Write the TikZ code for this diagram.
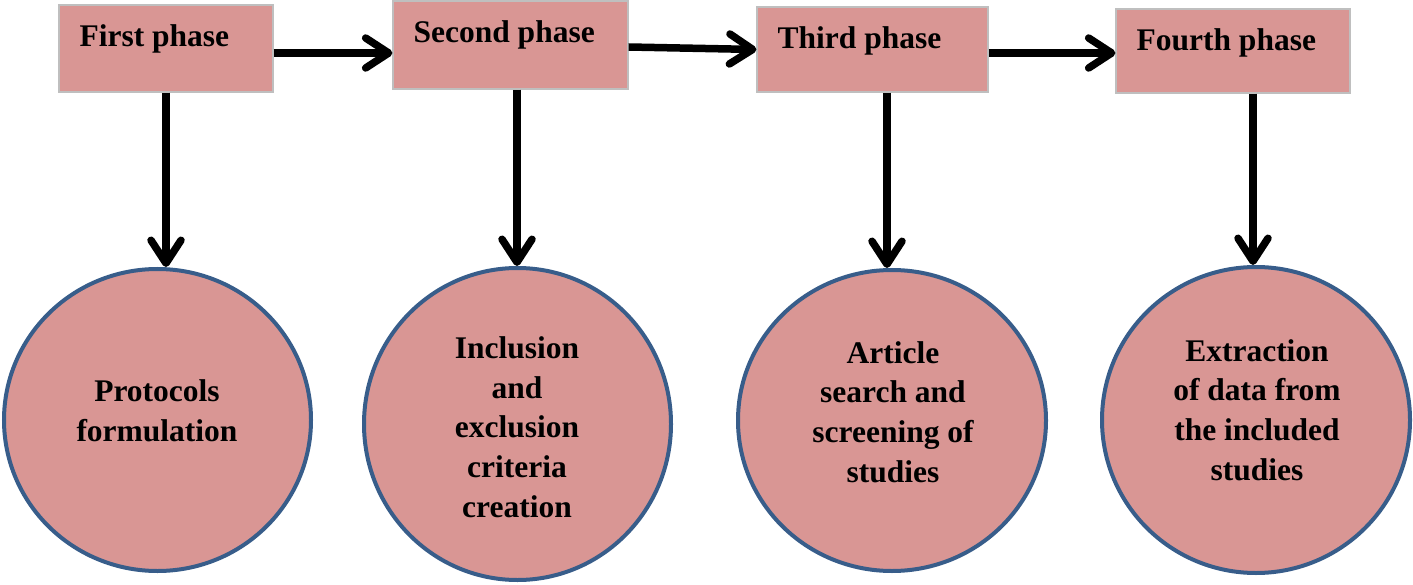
\documentclass[tikz,border=0pt]{standalone}
\usepackage{fontspec}
\setmainfont{Liberation Serif}[BoldFont={Liberation Serif Bold}]
\newfontfamily\phasefont{Liberation Serif Bold}
\usetikzlibrary{arrows.meta,shapes.geometric,calc}
\definecolor{pinkfill}{HTML}{D99694}
\definecolor{circborder}{HTML}{385D8A}
\definecolor{boxborder}{HTML}{BFBFBF}
\begin{document}
\begin{tikzpicture}[x=1pt,y=-1pt,
  phasebox/.style={rectangle, draw=boxborder, line width=1.2pt, fill=pinkfill, inner sep=0pt},
  boxtext/.style={font=\phasefont\fontsize{31.5}{39.7}\selectfont, inner sep=0pt, anchor=base west},
  circ/.style={ellipse, draw=circborder, line width=4pt, fill=pinkfill, inner sep=0pt},
  ctext/.style={font=\phasefont\fontsize{31.5}{39.7}\selectfont, align=center, inner sep=0pt},
  arr/.style={line width=7.5pt, -{Straight Barb[length=23pt,width=30pt,round]}}
]
\useasboundingbox (0,0) rectangle (1413,585);

% phase boxes
\node[phasebox, minimum width=214pt, minimum height=87pt] (b1) at (166,48.5) {};
\node[phasebox, minimum width=235pt, minimum height=88pt] (b2) at (510.5,45) {};
\node[phasebox, minimum width=231pt, minimum height=85pt] (b3) at (872.5,49.5) {};
\node[phasebox, minimum width=234pt, minimum height=84pt] (b4) at (1233,51) {};

\node[boxtext] (bt1) at ($(b1.north west)+(21,42.5)$) {First phase};
\node[boxtext] (bt2) at ($(b2.north west)+(21,42.5)$) {Second phase};
\node[boxtext] (bt3) at ($(b3.north west)+(21,42.5)$) {Third phase};
\node[boxtext] (bt4) at ($(b4.north west)+(21,42.5)$) {Fourth phase};

% circles
\node[circ, minimum width=307pt, minimum height=302pt] (c1) at (157.5,420) {};
\node[circ, minimum width=307pt, minimum height=312pt] (c2) at (517.5,424) {};
\node[circ, minimum width=308pt, minimum height=301pt] (c3) at (892,420.5) {};
\node[circ, minimum width=308pt, minimum height=306pt] (c4) at (1256,420) {};

\node[ctext] (ct1) at (157,411) {Protocols\\formulation};
\node[ctext] (ct2) at (517,427) {Inclusion\\and\\exclusion\\criteria\\creation};
\node[ctext] (ct3) at (893,412) {Article\\search and\\screening of\\studies};
\node[ctext] (ct4) at (1257,410) {Extraction\\of data from\\the included\\studies};

% horizontal arrows
\coordinate (h1) at ([yshift=-4.5pt]b1.east);
\coordinate (h3) at ([yshift=-3.5pt]b3.east);
\draw[arr] (h1) -- (h1 -| b2.west);
\draw[arr] ([yshift=-2pt]b2.east) -- (b3.west);
\draw[arr] (h3) -- (h3 -| b4.west);

% vertical arrows
\coordinate (v1) at (b1.south);
\coordinate (v2) at ([xshift=6.5pt]b2.south);
\coordinate (v3) at ([xshift=14.5pt]b3.south);
\coordinate (v4) at ([xshift=20pt]b4.south);
\draw[arr] (v1) -- (v1 |- c1.north);
\draw[arr] (v2) -- (v2 |- c2.north);
\draw[arr] (v3) -- (v3 |- c3.north);
\draw[arr] (v4) -- (v4 |- c4.north);
\end{tikzpicture}
\end{document}
